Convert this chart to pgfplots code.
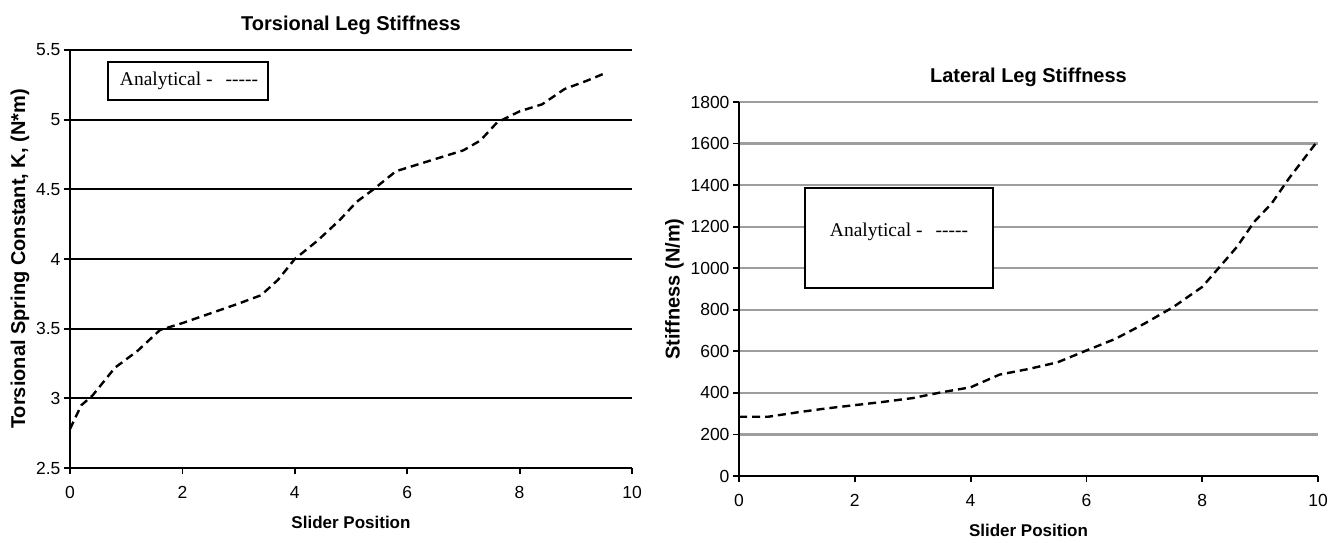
\documentclass[border=0pt]{standalone}
\usepackage{fontspec}
\setmainfont{Liberation Sans}
\newfontfamily\legfont{Liberation Serif}
\usepackage{pgfplots}
\pgfplotsset{compat=1.18}

\pgfplotsset{
  leg/.style={
    scale only axis,
    axis x line*=bottom, axis y line*=left,
    axis line style={line width=2.2pt, black},
    tick align=outside, major tick length=6pt,
    tick style={line width=1.8pt, black},
    xmin=0, xmax=10, xtick={0,2,...,10},
    ymajorgrids,
    tick label style={font=\fontsize{17.5}{17.5}\selectfont},
    xticklabel style={yshift=-9pt},
    label style={font=\fontsize{17}{17}\selectfont\bfseries},
    ylabel style={font=\fontsize{20}{20}\selectfont\bfseries},
    xlabel style={yshift=-10pt},
    title style={font=\fontsize{20}{20}\selectfont\bfseries, yshift=6pt},
    /pgf/number format/assume math mode=true,
    /pgf/number format/1000 sep={},
    xlabel={Slider Position},
    clip=false,
  },
  curve/.style={black, line width=2.4pt, dash pattern=on 8pt off 5pt},
}

\begin{document}
\begin{tikzpicture}
\useasboundingbox (0,0) rectangle (1333pt,542pt);

% left: torsional stiffness
\begin{axis}[leg,
  at={(70pt,74pt)}, anchor=south west,
  width=562pt, height=418pt,
  ymin=2.5, ymax=5.5, ytick={2.5,3,...,5.5},
  grid style={line width=2.2pt, black},
  title={Torsional Leg Stiffness},
  ylabel={Torsional Spring Constant, K, (N*m)},
]
\addplot[curve] coordinates {
(0,2.78) (0.2,2.95) (0.4,3.02) (0.8,3.22) (1.2,3.34) (1.6,3.49)
(2.0,3.54) (2.5,3.61) (3.0,3.68) (3.4,3.74) (3.7,3.85) (4.0,4.00)
(4.4,4.13) (4.8,4.28) (5.1,4.41) (5.4,4.50) (5.8,4.63) (6.2,4.68)
(6.6,4.73) (7.0,4.78) (7.3,4.85) (7.6,4.98) (8.0,5.06) (8.4,5.11)
(8.8,5.22) (9.2,5.28) (9.5,5.33)
};
\end{axis}

% right: lateral stiffness
\begin{axis}[leg,
  at={(739pt,66pt)}, anchor=south west,
  width=579pt, height=374pt,
  ymin=0, ymax=1800, ytick={0,200,...,1800},
  grid style={line width=2.2pt, black!38},
  title={Lateral Leg Stiffness},
  ylabel={Stiffness (N/m)},
]
\addplot[curve] coordinates {
(0,285) (0.5,285) (1.0,306) (1.5,325) (2.0,341) (2.5,357) (3.0,375)
(3.5,403) (4.0,427) (4.5,488) (5.0,515) (5.5,547) (6.0,604) (6.5,660)
(7.0,733) (7.5,813) (8.0,910) (8.3,1006) (8.6,1103) (8.9,1224)
(9.2,1312) (9.5,1433) (10,1615)
};
\end{axis}

% text boxes
\draw[line width=2pt, fill=white] (108pt,442pt) rectangle (268pt,480pt);
\node[font=\legfont\fontsize{19.5}{19.5}\selectfont] at (189pt,461pt) {Analytical -\ \ \,-----};
\draw[line width=2pt, fill=white] (805pt,254pt) rectangle (993pt,354pt);
\node[font=\legfont\fontsize{19.5}{19.5}\selectfont] at (899pt,310pt) {Analytical -\ \ \,-----};
\end{tikzpicture}
\end{document}
